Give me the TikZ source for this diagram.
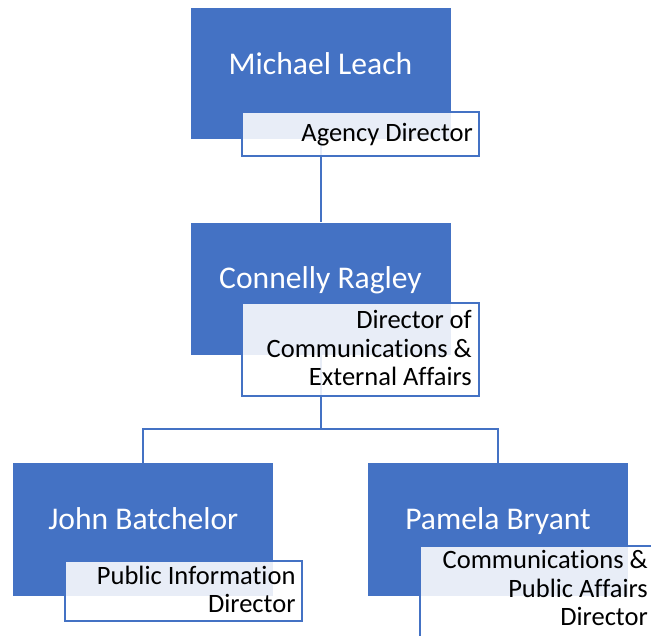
\documentclass[tikz,border=0pt]{standalone}
\usepackage{fontspec}
\setmainfont[Ligatures={NoCommon}]{Carlito}
\definecolor{accent}{HTML}{4472C4}
\tikzset{
  namebox/.style={fill=accent, draw=white, line width=0.8pt, inner sep=0pt, outer sep=0pt},
  nametext/.style={text=white, font=\fontsize{31.6}{37}\selectfont, inner sep=0pt, anchor=base},
  titlebox/.style={fill=white, fill opacity=0.88, draw=accent, draw opacity=1, line width=2pt, inner sep=0pt, outer sep=0pt, anchor=north west, minimum width=237pt},
  titletext/.style={text=black, font=\fontsize{26.5}{28.8}\selectfont, inner sep=0pt, anchor=base east},
  conn/.style={draw=accent, line width=2pt},
}
\begin{document}
\begin{tikzpicture}[x=1pt,y=-1pt]
\clip (0,0) rectangle (651,635);
\fill[white] (0,0) rectangle (651,635);
% person boxes
\node[namebox, minimum width=261pt, minimum height=132pt] (ml) at (320.5,73) {};
\node[namebox, minimum width=261pt, minimum height=133pt] (cr) at (320.5,288.5) {};
\node[namebox, minimum width=261pt, minimum height=134pt] (jb) at (143.3,529.7) {};
\node[namebox, minimum width=261pt, minimum height=134pt] (pb) at (498,529.7) {};
% connectors
\coordinate (jn) at (320.5,429);
\draw[conn] (ml.south) -- (cr.north);
\draw[conn] (cr.south) -- (jn);
\draw[conn] (jb.north) |- (jn) -| (pb.north);
% names
\node[nametext] (mlt) at (320.5,74) {Michael Leach};
\node[nametext] (crt) at (320.5,288) {Connelly Ragley};
\node[nametext] (jbt) at (143.3,529.3) {John Batchelor};
\node[nametext] (pbt) at (498,529.3) {Pamela Bryant};
% title boxes
\node[titlebox, minimum height=44pt] (mlb) at (242,112) {};
\node[titlebox, minimum height=93pt] (crb) at (242,303) {};
\node[titlebox, minimum height=60pt] (jbb) at (65,561) {};
\node[titlebox, minimum height=100pt] (pbb) at (420.3,546) {};
% titles
\node[titletext] (mltt) at (473,141.7) {\begin{tabular}[t]{@{}r@{}}Agency Director\end{tabular}};
\node[titletext] (crtt) at (472,328.3) {\begin{tabular}[t]{@{}r@{}}Director of\\Communications \&\\External Affairs\end{tabular}};
\node[titletext] (jbtt) at (295.7,584) {\begin{tabular}[t]{@{}r@{}}Public Information\\Director\end{tabular}};
\node[titletext] (pbtt) at (648,568.3) {\begin{tabular}[t]{@{}r@{}}Communications \&\\Public Affairs\\Director\end{tabular}};
\end{tikzpicture}
\end{document}
